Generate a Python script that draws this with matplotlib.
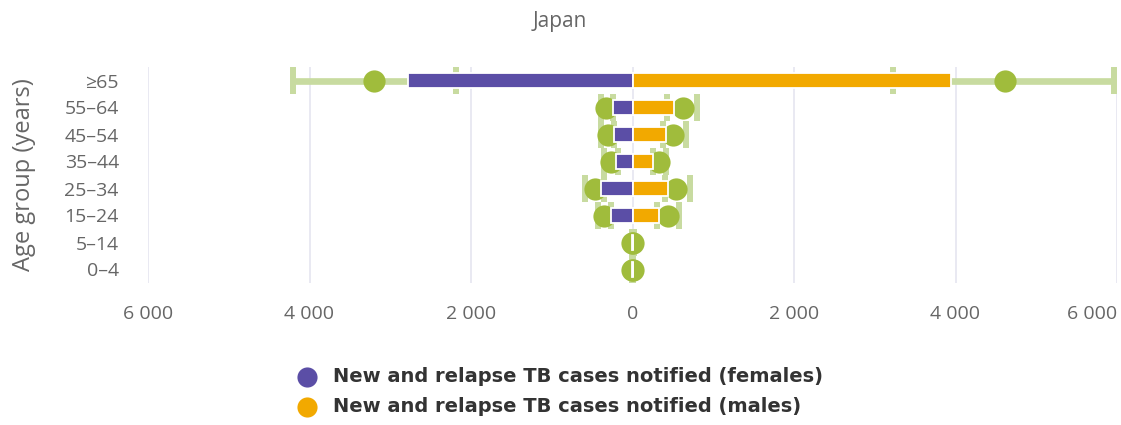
import matplotlib
matplotlib.use("Agg")
import matplotlib.pyplot as plt
from matplotlib.ticker import FuncFormatter

# Faixas etárias (de baixo para cima)
age_groups = ['0–4', '5–14', '15–24', '25–34', '35–44', '45–54', '55–64', '≥65']

# Casos notificados
female_notified = [3, 5, 264, 388, 202, 223, 244, 2774]
male_notified = [4, 6, 334, 437, 252, 417, 512, 3950]

# Incidência estimada e intervalo de incerteza
female_est = [5, 8, 347, 470, 264, 306, 326, 3207]
female_lo = [2, 4, 265, 350, 185, 225, 240, 2180]
female_hi = [8, 12, 430, 594, 347, 388, 396, 4210]

male_est = [6, 9, 437, 541, 334, 499, 623, 4619]
male_lo = [2, 4, 300, 400, 250, 380, 433, 3220]
male_hi = [9, 14, 582, 706, 421, 665, 793, 5957]

x_ticks = [-6000, -4000, -2000, 0, 2000, 4000, 6000]

purple = '#5b4ea6'
orange = '#f2a900'
olive = '#a0bc3c'
light_green = '#c8dba0'
grid_color = '#e5e5f0'
text_gray = '#666666'

plt.rcParams['font.family'] = ['Open Sans', 'DejaVu Sans']

fig = plt.figure(figsize=(11.21, 4.25), dpi=100)
ax = fig.add_axes([148 / 1121, 1 - 283 / 425, (1117 - 148) / 1121, (283 - 67) / 425])

y = list(range(len(age_groups)))

# Barras de erro (linha + extremidades)
for lo, hi in [(female_lo, female_hi), (male_lo, male_hi)]:
    sign = -1 if lo is female_lo else 1
    for i in y:
        ax.hlines(i, sign * lo[i], sign * hi[i], color=light_green, lw=4.8, zorder=2)
        ax.vlines([sign * lo[i], sign * hi[i]], i - 0.5, i + 0.5,
                  color=light_green, lw=4.3, zorder=2)

# Estimativas
ax.plot([-v for v in female_est], y, 'o', color=olive, ms=16, mec='none', zorder=3)
ax.plot(male_est, y, 'o', color=olive, ms=16, mec='none', zorder=3)

# Casos notificados
ax.barh(y, [-v for v in female_notified], height=0.58, color=purple,
        edgecolor='white', linewidth=1.3, zorder=4)
ax.barh(y, male_notified, height=0.58, color=orange,
        edgecolor='white', linewidth=1.3, zorder=4)

ax.set_xlim(-6000, 6000)
ax.set_ylim(-0.5, len(age_groups) - 0.5)
ax.set_xticks(x_ticks)
ax.xaxis.set_major_formatter(FuncFormatter(lambda v, p: f"{abs(int(v)):,}".replace(',', ' ')))
ax.set_yticks(y)
ax.set_yticklabels(age_groups)
ax.tick_params(axis='both', length=0, colors=text_gray, labelsize=14)
ax.tick_params(axis='x', pad=16)
ax.tick_params(axis='y', pad=21)
ax.get_xticklabels()[-1].set_horizontalalignment('right')

ax.grid(axis='x', color=grid_color, lw=1.2, zorder=0)
ax.set_axisbelow(True)
for s in ax.spines.values():
    s.set_visible(False)

ax.set_ylabel('Age group (years)', color=text_gray, fontsize=17)
ax.yaxis.set_label_coords((36 - 148) / 969, 0.5)
fig.text(560 / 1121, 1 - 22 / 425, 'Japan', ha='center', va='center',
         color=text_gray, fontsize=15)

# Legenda
leg = fig.add_axes([0, 0, 1, 1], facecolor='none')
leg.set_xlim(0, 1121)
leg.set_ylim(425, 0)
leg.axis('off')
labels = ['New and relapse TB cases notified (females)',
          'New and relapse TB cases notified (males)']
for k, (lab, col) in enumerate(zip(labels, [purple, orange])):
    yy = 377 + 30 * k
    leg.plot(307, yy, 'o', color=col, ms=14.5, mec='none')
    leg.text(333, yy, lab, va='center', ha='left', fontsize=14,
             fontweight='bold', color='#333333', family='DejaVu Sans')

fig.savefig('out.png', dpi=100)
